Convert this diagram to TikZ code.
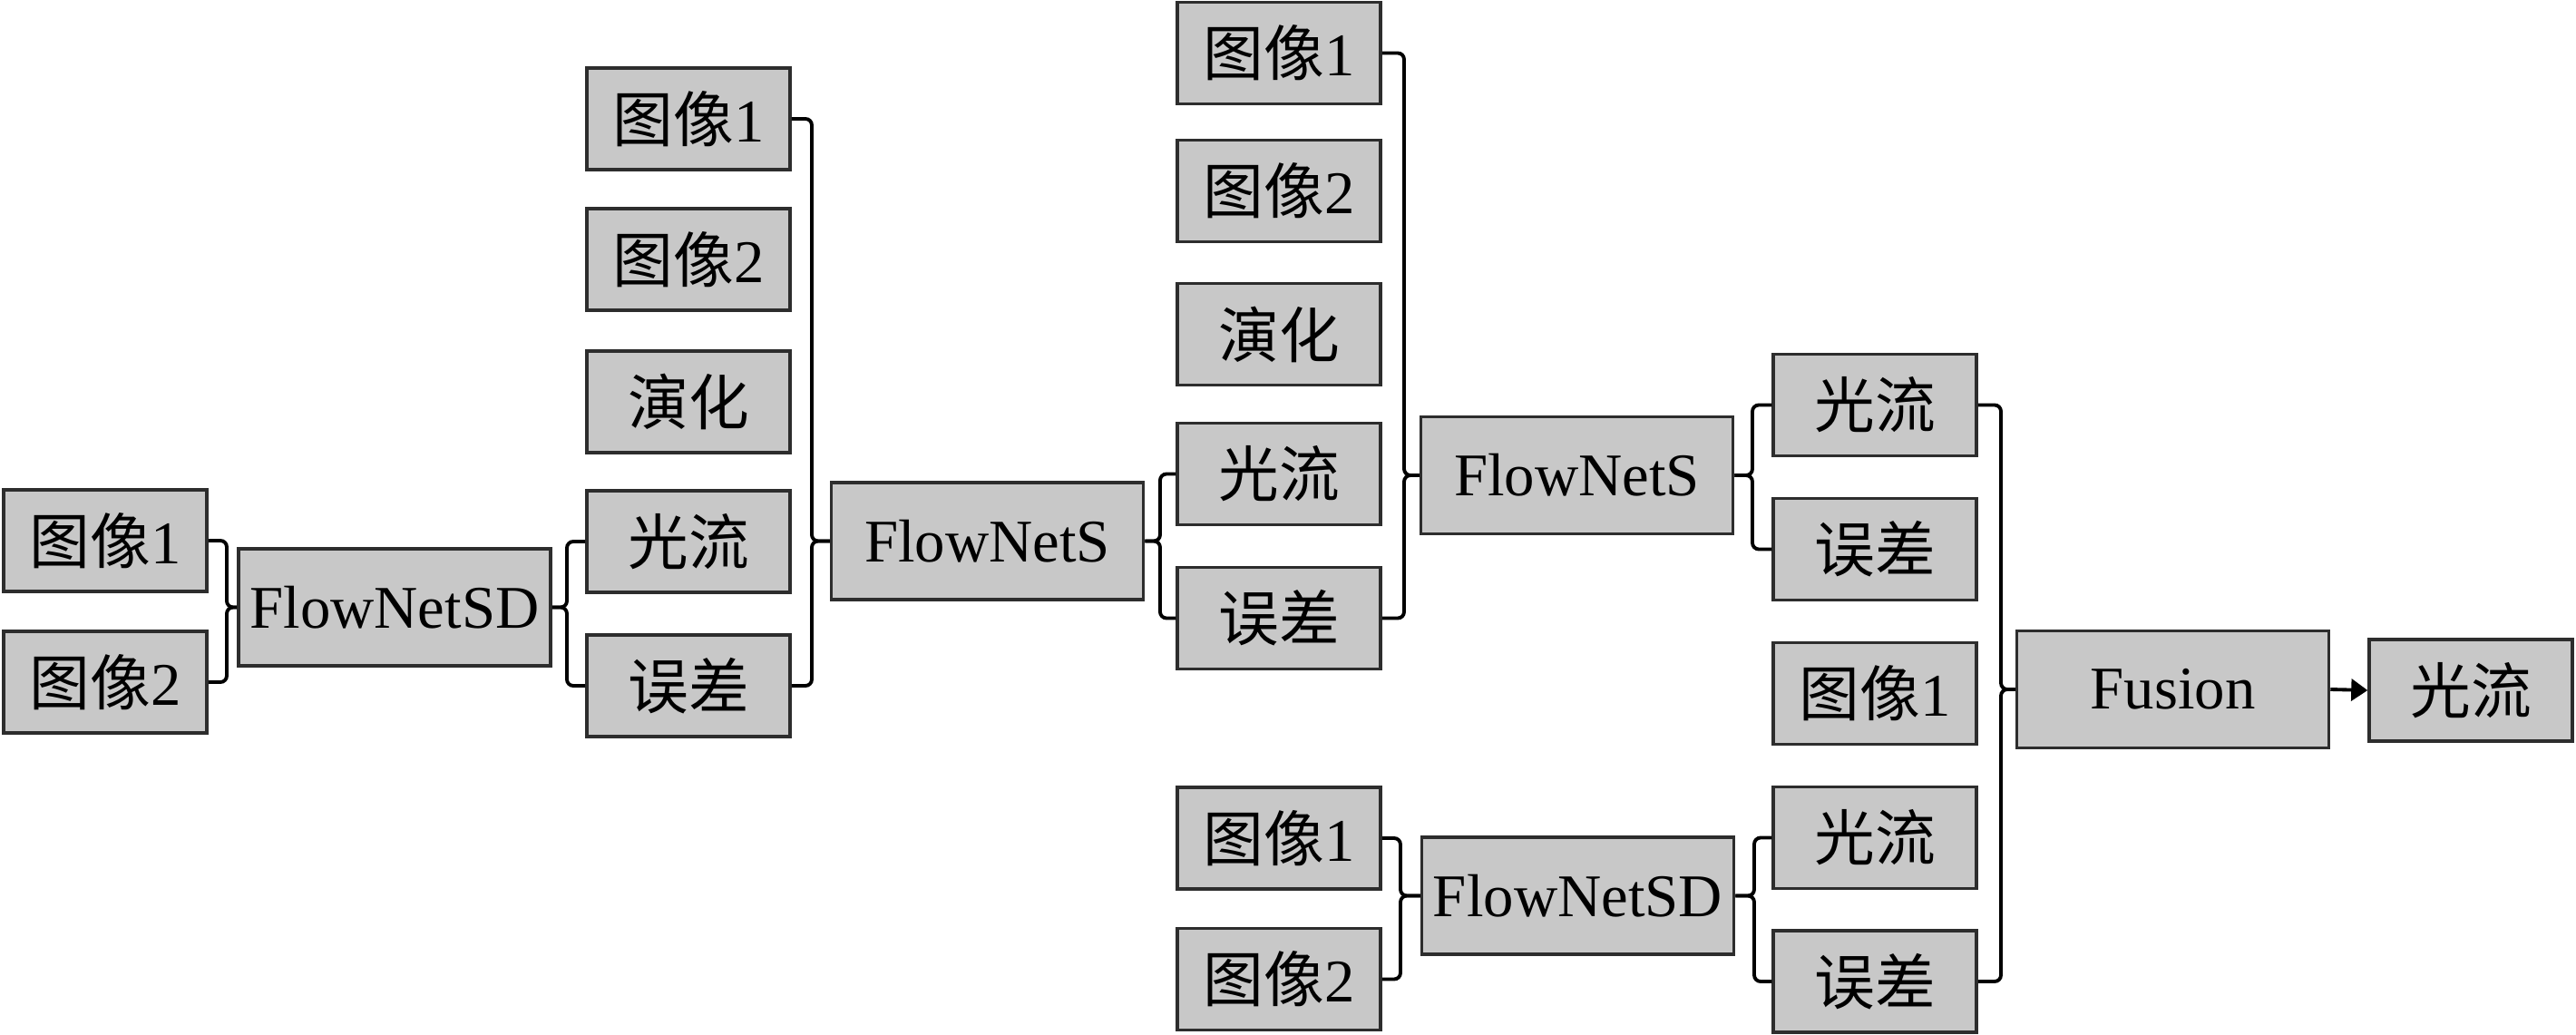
\documentclass[tikz,border=0pt]{standalone}
\usepackage{fontspec}
\setmainfont{Liberation Serif}
\newfontfamily\cjk{Noto Sans CJK SC}[Scale=1.0]
\usetikzlibrary{arrows.meta,calc}
\definecolor{boxfill}{RGB}{200,200,200}
\definecolor{boxline}{RGB}{45,45,45}
\newcommand\zh[1]{{\cjk #1}}
\begin{document}
\begin{tikzpicture}[
  box/.style={draw=boxline, fill=boxfill, line width=1pt, minimum width=2.24cm, minimum height=1.12cm, inner sep=0pt, font=\fontsize{19pt}{22pt}\selectfont},
  big/.style={box, minimum width=3.44cm, minimum height=1.29cm},
  conn/.style={draw=black, line width=1.1pt, rounded corners=0.07cm},
  arr/.style={draw=black, line width=1.1pt, -{Triangle[length=0.18cm,width=0.24cm]}}
]
\useasboundingbox (0,-11.41) rectangle (28.40,0);
% column 1
\node[box] (A1) at (1.16,-5.96) {\zh{图像}1};
\node[box] (A2) at (1.16,-7.52) {\zh{图像}2};
\node[big] (SD1) at (4.35,-6.695) {FlowNetSD};
% column 2
\node[box] (B1) at (7.59,-1.31) {\zh{图像}1};
\node[box] (B2) at (7.59,-2.86) {\zh{图像}2};
\node[box] (B3) at (7.59,-4.43) {\zh{演化}};
\node[box] (B4) at (7.59,-5.97) {\zh{光流}};
\node[box] (B5) at (7.59,-7.56) {\zh{误差}};
\node[big] (S1) at (10.885,-5.965) {FlowNetS};
% column 3
\node[box] (C1) at (14.10,-0.585) {\zh{图像}1};
\node[box] (C2) at (14.10,-2.105) {\zh{图像}2};
\node[box] (C3) at (14.10,-3.685) {\zh{演化}};
\node[box] (C4) at (14.10,-5.225) {\zh{光流}};
\node[box] (C5) at (14.10,-6.815) {\zh{误差}};
\node[big] (S2) at (17.385,-5.24) {FlowNetS};
\node[box] (E1) at (14.10,-9.24) {\zh{图像}1};
\node[box] (E2) at (14.10,-10.795) {\zh{图像}2};
\node[big] (SD2) at (17.395,-9.875) {FlowNetSD};
% column 4
\node[box] (D1) at (20.67,-4.465) {\zh{光流}};
\node[box] (D2) at (20.67,-6.055) {\zh{误差}};
\node[box] (D3) at (20.67,-7.645) {\zh{图像}1};
\node[box] (D4) at (20.67,-9.235) {\zh{光流}};
\node[box] (D5) at (20.67,-10.82) {\zh{误差}};
\node[big] (F) at (23.955,-7.60) {Fusion};
\node[box] (O) at (27.24,-7.61) {\zh{光流}};
% bracket x positions
\coordinate (k1) at (2.50,0);
\coordinate (k2) at (6.25,0);
\coordinate (k3) at (8.95,0);
\coordinate (k4) at (12.79,0);
\coordinate (k5) at (15.48,0);
\coordinate (k6) at (19.32,0);
\coordinate (k7) at (22.06,0);
\coordinate (k8) at (15.44,0);
\coordinate (k9) at (19.34,0);
% converging brackets
\foreach \s/\t/\k in {A1/SD1/k1, A2/SD1/k1, B1/S1/k3, B5/S1/k3, C1/S2/k5, C5/S2/k5, E1/SD2/k8, E2/SD2/k8, D1/F/k7, D5/F/k7}
  \draw[conn] (\s.east) -- (\s.east -| \k) -- (\k |- \t.west) -- (\t.west);
% diverging brackets
\foreach \s/\t/\k in {SD1/B4/k2, SD1/B5/k2, S1/C4/k4, S1/C5/k4, S2/D1/k6, S2/D2/k6, SD2/D4/k9, SD2/D5/k9}
  \draw[conn] (\s.east) -- (\s.east -| \k) -- (\k |- \t.west) -- (\t.west);
\draw[arr] (F.east) -- (O.west);
\end{tikzpicture}
\end{document}
